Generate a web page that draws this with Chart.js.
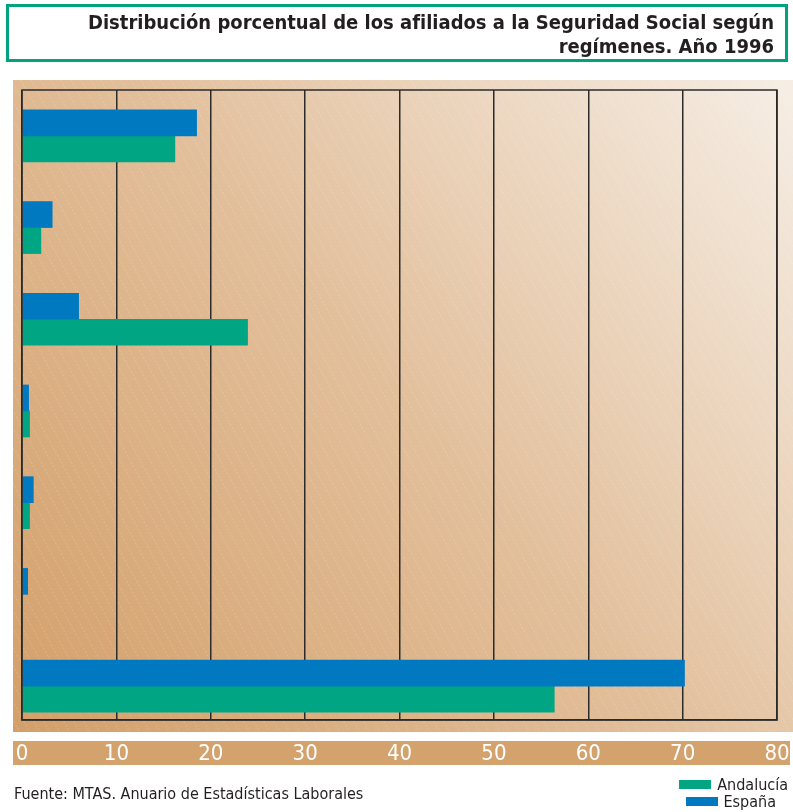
<!DOCTYPE html>
<html lang="es">
<head>
<meta charset="utf-8">
<script src="https://cdn.jsdelivr.net/npm/chart.js@4.4.1/dist/chart.umd.min.js"></script>
<style>
  html, body { margin: 0; padding: 0; background: #fff; }
  #wrap { position: relative; width: 793px; height: 812px; overflow: hidden; }
  #chart { position: absolute; left: 0; top: 0; }
  #title {
    position: absolute; left: 6px; top: 4px; width: 776px; height: 52px;
    border: 3px solid #00a27f; box-sizing: content-box;
    font: bold 20px "DejaVu Sans Condensed", sans-serif; color: #231f20;
    text-align: right; line-height: 24px; padding: 0;
  }
  #title div { padding: 3px 11px 0 0; }
  #source {
    position: absolute; left: 14px; top: 784px;
    font: 16px "DejaVu Sans Condensed", sans-serif; color: #231f20;
  }
  .leg {
    position: absolute; right: 5px;
    font: 16px "DejaVu Sans Condensed", sans-serif; color: #231f20;
    line-height: 17px;
  }
  .leg span { display: inline-block; width: 32px; height: 9px; margin-right: 6px; vertical-align: 1px; }
</style>
</head>
<body>
<div id="wrap">
  <canvas id="chart" width="793" height="812"></canvas>
  <div id="title"><div>Distribución porcentual de los afiliados a la Seguridad Social según<br>regímenes. Año 1996</div></div>
  <div id="source">Fuente: MTAS. Anuario de Estadísticas Laborales</div>
  <div class="leg" style="top:776px"><span style="background:#00a683"></span>Andalucía</div>
  <div class="leg" style="top:793px;right:17px"><span style="background:#0079c1"></span>España</div>
</div>
<script>
// regimes (no labels printed in the original)
const categories = ["R1", "R2", "R3", "R4", "R5", "R6", "R7"];
const espana = [18.5, 3.2, 6.0, 0.7, 1.2, 0.6, 70.2];
const andalucia = [16.2, 2.0, 23.9, 0.8, 0.8, 0, 56.4];
const xTicks = [0, 10, 20, 30, 40, 50, 60, 70, 80];

// the original's last group sits lower than an even split, so the
// category positions go on a linear axis cut short at the bottom
const toPoints = (vals) => vals.map((v, i) => ({ x: v, y: i }));

// background panel, hatch and tick band
const backdrop = {
  id: "backdrop",
  beforeDraw(chart) {
    const ctx = chart.ctx;
    ctx.save();
    ctx.fillStyle = "#fff";
    ctx.fillRect(0, 0, chart.width, chart.height);

    const px = 13, py = 80, pw = 780, ph = 652;
    const g = ctx.createLinearGradient(px, py + ph, px + pw, py);
    g.addColorStop(0, "#d39f69");
    g.addColorStop(0.5, "#e2bf9b");
    g.addColorStop(1, "#f6eee5");
    ctx.fillStyle = g;
    ctx.fillRect(px, py, pw, ph);

    // fine diagonal hatch
    ctx.beginPath();
    ctx.rect(px, py, pw, ph);
    ctx.clip();
    ctx.strokeStyle = "rgba(255,255,255,0.18)";
    ctx.lineWidth = 1;
    ctx.setLineDash([2, 2]);
    for (let x = px - ph; x < px + pw + ph; x += 10) {
      ctx.beginPath();
      ctx.moveTo(x, py);
      ctx.lineTo(x + ph * 0.55, py + ph);
      ctx.stroke();
    }
    ctx.restore();

    ctx.save();
    ctx.fillStyle = "#d4a26d";
    ctx.fillRect(13, 741, 777, 24);
    ctx.restore();
  },
  afterDraw(chart) {
    const a = chart.chartArea;
    const ctx = chart.ctx;
    ctx.save();
    ctx.strokeStyle = "#2b2b2b";
    ctx.lineWidth = 1.5;
    ctx.strokeRect(a.left, a.top, a.right - a.left, a.bottom - a.top);
    ctx.restore();
  }
};

new Chart(document.getElementById("chart"), {
  type: "bar",
  data: {
    labels: categories,
    datasets: [
      {
        label: "España",
        data: toPoints(espana),
        backgroundColor: "#0079c1",
        barThickness: 26,
      },
      {
        label: "Andalucía",
        data: toPoints(andalucia),
        backgroundColor: "#00a683",
        barThickness: 26,
      },
    ],
  },
  plugins: [backdrop],
  options: {
    indexAxis: "y",
    responsive: false,
    animation: false,
    layout: { padding: { left: 22, right: 16, top: 90, bottom: 47 } },
    plugins: { legend: { display: false }, tooltip: { enabled: false } },
    scales: {
      x: {
        min: 0,
        max: 80,
        afterBuildTicks: (axis) => { axis.ticks = xTicks.map((v) => ({ value: v })); },
        afterFit: (axis) => {
          axis.height = 45;
          axis.paddingLeft = 0;
          axis.paddingRight = 0;
        },
        grid: { color: "#2b2b2b", lineWidth: 1.5, drawTicks: false },
        border: { color: "#2b2b2b", width: 1.5 },
        ticks: {
          color: "#ffffff",
          padding: 21,
          maxRotation: 0,
          font: { family: "'DejaVu Sans Condensed', sans-serif", size: 22 },
        },
      },
      y: {
        type: "linear",
        reverse: true,
        offset: false,
        min: -0.5,
        max: 6.37,
        afterBuildTicks: (axis) => { axis.ticks = categories.map((c, i) => ({ value: i })); },
        display: false,
      },
    },
  },
});
</script>
</body>
</html>
